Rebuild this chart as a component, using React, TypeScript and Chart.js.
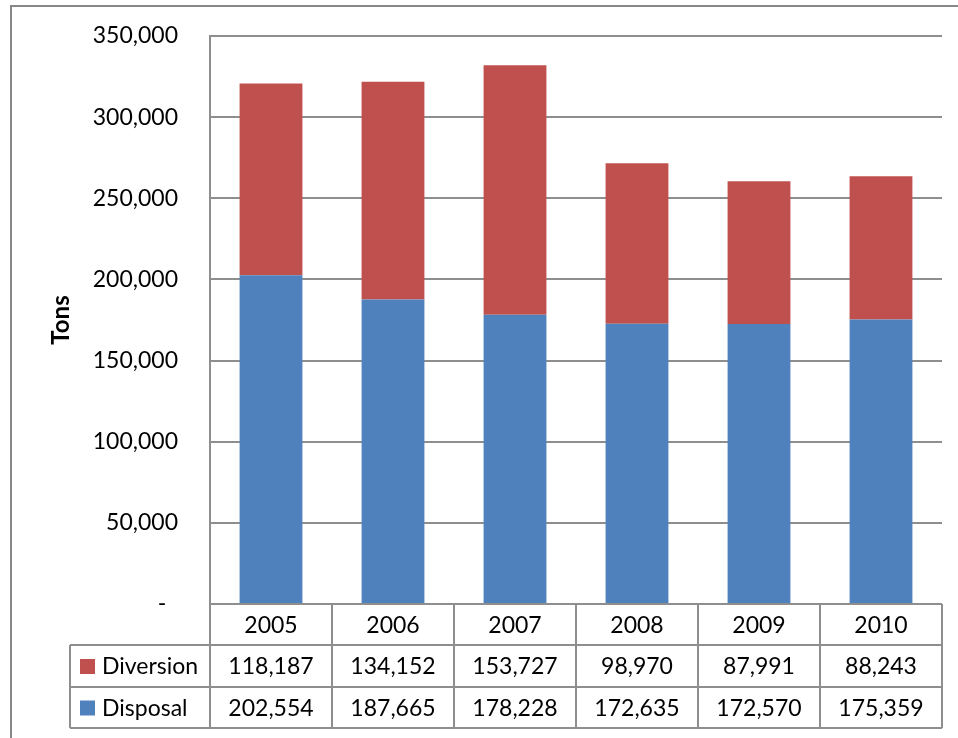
import React, { useEffect, useRef } from "react";
import { Chart, registerables } from "chart.js";

Chart.register(...registerables);

const years = ["2005", "2006", "2007", "2008", "2009", "2010"];
const diversion = [118187, 134152, 153727, 98970, 87991, 88243];
const disposal = [202554, 187665, 178228, 172635, 172570, 175359];
const seriesNames = ["Diversion", "Disposal"];
const yMin = 0;
const yMax = 350000;
const yStep = 50000;

const RED = "#C0504D";
const BLUE = "#4F81BD";
const GRID = "#8e8e8e";
const FONT = "Lato, 'Liberation Sans', sans-serif";

const fmt = (v: number) => v.toLocaleString("en-US");

const framePlugin = {
  id: "frame",
  beforeDraw(chart: any) {
    const ctx = chart.ctx;
    ctx.save();
    ctx.fillStyle = "#ffffff";
    ctx.fillRect(0, 0, chart.width, chart.height);
    ctx.strokeStyle = "#878787";
    ctx.lineWidth = 2;
    ctx.strokeRect(11, 6, 1000, 1000);
    ctx.restore();
  },
};

const tablePlugin = {
  id: "dataTable",
  afterDraw(chart: any) {
    const ctx = chart.ctx;
    const xs = chart.scales.x;
    const area = chart.chartArea;
    const n = years.length;
    const cw = (area.right - area.left) / n;
    const r0 = area.bottom;
    const rows = [r0, r0 + 41, r0 + 83, r0 + 124];
    const labelLeft = 70;
    ctx.save();
    ctx.strokeStyle = GRID;
    ctx.lineWidth = 2;
    ctx.beginPath();
    ctx.moveTo(area.left, rows[0]);
    ctx.lineTo(area.right, rows[0]);
    for (let r = 1; r < rows.length; r++) {
      ctx.moveTo(labelLeft, rows[r]);
      ctx.lineTo(area.right, rows[r]);
    }
    for (let i = 0; i <= n; i++) {
      const xl = area.left + i * cw;
      ctx.moveTo(xl, rows[0]);
      ctx.lineTo(xl, rows[3]);
    }
    ctx.moveTo(labelLeft, rows[1]);
    ctx.lineTo(labelLeft, rows[3]);
    ctx.stroke();

    ctx.fillStyle = "#000";
    ctx.font = `23px ${FONT}`;
    ctx.textAlign = "center";
    ctx.textBaseline = "middle";
    const series = [diversion, disposal];
    for (let i = 0; i < n; i++) {
      const cx = xs.getPixelForValue(i);
      ctx.fillText(years[i], cx, (rows[0] + rows[1]) / 2 + 1);
      for (let s = 0; s < series.length; s++) {
        ctx.fillText(fmt(series[s][i]), cx, (rows[s + 1] + rows[s + 2]) / 2 + 1);
      }
    }
    const keyColors = [RED, BLUE];
    ctx.textAlign = "left";
    for (let s = 0; s < seriesNames.length; s++) {
      const cy = (rows[s + 1] + rows[s + 2]) / 2;
      ctx.fillStyle = keyColors[s];
      ctx.fillRect(80, cy - 7, 15, 15);
      ctx.fillStyle = "#000";
      ctx.fillText(seriesNames[s], 102, cy + 1);
    }
    ctx.restore();
  },
};

export default function App() {
  const ref = useRef<HTMLCanvasElement>(null);
  useEffect(() => {
    if (!ref.current) return;
    const chart = new Chart(ref.current, {
      type: "bar",
      data: {
        labels: years,
        datasets: [
          {
            label: seriesNames[1],
            data: disposal,
            backgroundColor: BLUE,
            barPercentage: 0.515,
            categoryPercentage: 1,
          },
          {
            label: seriesNames[0],
            data: diversion,
            backgroundColor: RED,
            barPercentage: 0.515,
            categoryPercentage: 1,
          },
        ],
      },
      options: {
        responsive: false,
        animation: false,
        layout: { padding: { top: 36, right: 16, bottom: 134, left: 0 } },
        plugins: {
          legend: { display: false },
          tooltip: { enabled: false },
          title: { display: false },
        },
        scales: {
          x: {
            stacked: true,
            display: false,
          },
          y: {
            stacked: true,
            min: yMin,
            max: yMax,
            afterFit: (scale: any) => {
              scale.width = 210;
              scale.paddingTop = 0;
              scale.paddingBottom = 0;
            },
            ticks: {
              stepSize: yStep,
              padding: 32,
              color: "#000",
              font: { family: FONT, size: 23 },
              callback: (v: any) => (Number(v) === 0 ? "-  " : fmt(Number(v))),
            },
            grid: {
              color: GRID,
              lineWidth: 2,
              drawTicks: false,
            },
            border: { display: true, color: GRID, width: 2 },
            title: {
              display: true,
              text: "Tons",
              color: "#000",
              font: { family: FONT, size: 24, weight: "bold" },
              padding: { top: 47, bottom: 0 },
            },
          },
        },
      },
      plugins: [framePlugin, tablePlugin],
    });
    return () => chart.destroy();
  }, []);
  return (
    <div style={{ position: "fixed", left: 0, top: 0, width: 958, height: 738, background: "#fff" }}>
      <canvas ref={ref} width={958} height={738} style={{ display: "block" }} />
    </div>
  );
}
